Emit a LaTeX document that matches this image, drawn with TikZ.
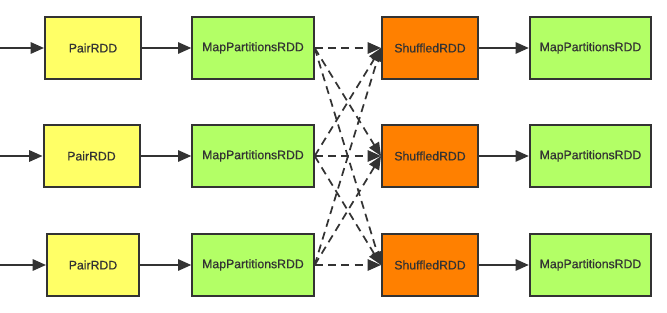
\documentclass[tikz,border=0pt]{standalone}
\usepackage{fontspec}
\setmainfont{Liberation Sans}
\newfontfamily\rddfont[FakeBold=0.6]{Liberation Sans}
\usetikzlibrary{arrows.meta}
\definecolor{edgegray}{HTML}{333333}
\definecolor{pairyellow}{HTML}{FFFF66}
\definecolor{mapgreen}{HTML}{B3FF66}
\definecolor{shuforange}{HTML}{FF8000}
\tikzset{
  rddbox/.style={draw=edgegray, line width=1.5pt, text=edgegray, font=\rddfont\fontsize{9.2}{11}\selectfont, inner sep=0pt},
  pairbox/.style={rddbox, fill=pairyellow, minimum width=72pt, minimum height=46.5pt},
  mapbox/.style={rddbox, fill=mapgreen, minimum width=91pt, minimum height=46.5pt},
  shufbox/.style={rddbox, fill=shuforange, minimum width=72pt, minimum height=46.5pt},
  flow/.style={draw=edgegray, line width=1.5pt, -{Triangle[length=10pt, width=8.5pt]}},
  shuffle/.style={flow, line width=1.3pt, dash pattern=on 6pt off 4pt}
}
\begin{document}
\begin{tikzpicture}[x=0.75pt, y=-0.75pt]
\useasboundingbox (0,0) rectangle (667,313);
% free ends of the incoming arrows
\coordinate (in1) at (0,48);
\coordinate (in2) at (0,156);
\coordinate (in3) at (0,265);

\node [pairbox] (pair1) at (93,48) {PairRDD};
\node [pairbox] (pair2) at (91.5,156) {PairRDD};
\node [pairbox, minimum width=69pt] (pair3) at (93,265) {PairRDD};

\node [mapbox] (map1) at (253,48) {MapPartitionsRDD};
\node [mapbox] (map2) at (253,156) {MapPartitionsRDD};
\node [mapbox] (map3) at (253,265) {MapPartitionsRDD};

\node [shufbox] (shuf1) at (430,48) {ShuffledRDD};
\node [shufbox] (shuf2) at (430,156) {ShuffledRDD};
\node [shufbox] (shuf3) at (430,265) {ShuffledRDD};

\node [mapbox] (out1) at (590.5,48) {MapPartitionsRDD};
\node [mapbox] (out2) at (590.5,156) {MapPartitionsRDD};
\node [mapbox] (out3) at (590.5,265) {MapPartitionsRDD};

\draw [flow] (in1) -- (pair1);
\draw [flow] (in2) -- (pair2);
\draw [flow] (in3) -- (pair3);
\draw [flow] (pair1) -- (map1);
\draw [flow] (pair2) -- (map2);
\draw [flow] (pair3) -- (map3);

% shuffle: every partition to every reducer
\draw [shuffle] (map1.east) -- (shuf1.west);
\draw [shuffle] (map1.east) -- (shuf2.west);
\draw [shuffle] (map1.east) -- (shuf3.west);
\draw [shuffle] (map2.east) -- (shuf1.west);
\draw [shuffle] (map2.east) -- (shuf2.west);
\draw [shuffle] (map2.east) -- (shuf3.west);
\draw [shuffle] (map3.east) -- (shuf1.west);
\draw [shuffle] (map3.east) -- (shuf2.west);
\draw [shuffle] (map3.east) -- (shuf3.west);

\draw [flow] (shuf1) -- (out1);
\draw [flow] (shuf2) -- (out2);
\draw [flow] (shuf3) -- (out3);
\end{tikzpicture}
\end{document}
